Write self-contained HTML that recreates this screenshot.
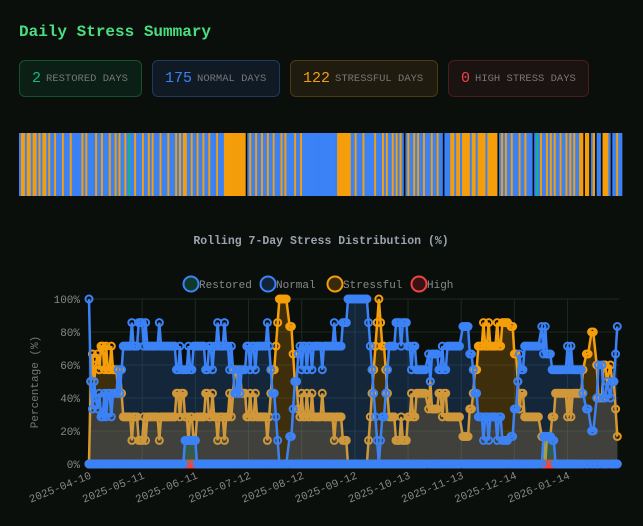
<!DOCTYPE html>
<html><head><meta charset="utf-8">
<style>
html,body{margin:0;padding:0;background:#0b0f0c;width:643px;height:526px;overflow:hidden;font-family:"Liberation Mono",monospace}
#title{position:absolute;left:19px;top:23px;font-size:16px;font-weight:bold;color:#4ade80}
.badge{position:absolute;top:60px;height:37px;border-radius:6px;box-sizing:border-box;border:1px solid;display:flex;align-items:center;padding-left:12px;white-space:nowrap}
.badge b{font-weight:normal;font-size:15px;margin-right:5px}
.badge span{font-size:10.5px;color:#777}
#strip{position:absolute;left:19px;top:133px}
#chart{position:absolute;left:0;top:0}
</style></head><body>
<div id="title">Daily Stress Summary</div>
<div class="badge" style="left:19px;width:123px;background:#0c1f16;border-color:#14532d"><b style="color:#10b981">2</b><span>RESTORED DAYS</span></div>
<div class="badge" style="left:152px;width:128px;background:#101a24;border-color:#1e3a5f"><b style="color:#3b82f6">175</b><span>NORMAL DAYS</span></div>
<div class="badge" style="left:290px;width:148px;background:#1f1b0e;border-color:#4a3b10"><b style="color:#f59e0b">122</b><span>STRESSFUL DAYS</span></div>
<div class="badge" style="left:448px;width:141px;background:#1b1312;border-color:#4a1c1c"><b style="color:#ef4444">0</b><span>HIGH STRESS DAYS</span></div>
<svg id="strip" width="605" height="63"></svg>
<svg id="chart" width="643" height="526" style="top:0;pointer-events:none"></svg>
<script>
const NS='http://www.w3.org/2000/svg';
// daily categories: N normal, S stressful, R restored, G gap (no data)
const dailyCodes=[
"NSSNSSNSSN","SNSSNSNNSN","NNSNNNSNNN","NNSNSNNNNS","NNSNNNSNNS",
"NSNNSNRNNS","NNNSNNSNSN","NNSNNNSNNN","SNSNSSNNSN","NSNNSNNSNN",
"NSNNNSSSSS","SSSSSSGNSN","NSNNSNNSNN","SNNNSNSNNN","NSNNSNNNNN",
"NNNNNNNNNN","NNNSSSSSSS","NNSNNNSNNN","NNSNNNSNSN","NSNSNSNGNS",
"NNSNSNNSNN","NSNNSNNGNN","NSSNSSNSSS","SNSSNSSSSN","SSSSSGNSNS",
"NNSNNNSNNS","NNNGNRNSNN","SNSNSNNSNN","SNSNSNNSSG","SSGNSGNNGS",
"SSNGNNSNNG"].join('').split('');
const tickLabels=["2025-04-10","2025-05-11","2025-06-11","2025-07-12","2025-08-12","2025-09-12","2025-10-13","2025-11-13","2025-12-14","2026-01-14"];
const tickDays=[0,31,62,93,124,155,186,217,248,279];
const yTicks=[0,20,40,60,80,100];
const colors={N:'#3b82f6',S:'#f59e0b',R:'#10b981',H:'#ef4444'};

const strip=document.getElementById('strip');
const dw=605/dailyCodes.length;
dailyCodes.forEach((c,i)=>{
  if(c==='G')return;
  const r=document.createElementNS(NS,'rect');
  
  
  r.setAttribute('x',i*dw);r.setAttribute('y',0);r.setAttribute('width',dw+0.3);r.setAttribute('height',63);
  r.setAttribute('fill',colors[c]);strip.appendChild(r);
});

const days=[],restored=[],normal=[],stressful=[],high=[];
dailyCodes.forEach((c,i)=>{
  if(c==='G')return;
  let n=0,cnt={N:0,S:0,R:0,H:0};
  for(let k=Math.max(0,i-6);k<=i;k++){const v=dailyCodes[k];if(v!=='G'){n++;cnt[v]++;}}
  days.push(i);restored.push(cnt.R/n*100);normal.push(cnt.N/n*100);stressful.push(cnt.S/n*100);high.push(cnt.H/n*100);
});
const X0=89,X1=619,Y0=464,Y1=299;
const xs=d=>X0+d*(X1-X0)/(dailyCodes.length-1);
const ys=v=>Y0-v*(Y0-Y1)/100;
const svg=document.getElementById('chart');
function el(t,a,name,txt){const e=document.createElementNS(NS,t);for(const k in a)e.setAttribute(k,a[k]);
  
  
  if(txt!==undefined)e.textContent=txt;svg.appendChild(e);return e;}
const F='Liberation Mono,monospace';
el('text',{x:321,y:244,'text-anchor':'middle','font-size':11.5,'font-weight':'bold',fill:'#9ca3af','font-family':F},'chart-title','Rolling 7-Day Stress Distribution (%)');
const leg=[['Restored','#0f3a2a','#3b82f6',199],['Normal','#13233a','#3b82f6',276],['Stressful','#3a2a08','#f59e0b',343],['High','#3a1212','#ef4444',427]];
leg.forEach(l=>{
  el('circle',{cx:l[3]-8,cy:284,r:7.5,fill:l[1],stroke:l[2],'stroke-width':2},'legend-marker');
  el('text',{x:l[3],y:288,'font-size':11,fill:'#888','font-family':F},'legend-entry',l[0]);
});
yTicks.forEach(v=>{
  el('line',{x1:X0,x2:X1,y1:ys(v),y2:ys(v),stroke:'#1c2a20','stroke-width':1},'y-gridline');
  el('text',{x:80,y:ys(v)+4,'text-anchor':'end','font-size':11,fill:'#888','font-family':F},'y-tick-label',v+'%');
});
tickDays.forEach((d,i)=>{
  el('line',{x1:xs(d),x2:xs(d),y1:Y1,y2:Y0+4,stroke:'#1c2a20','stroke-width':1},'x-gridline');
  el('text',{x:xs(d)+3,y:Y0+14,'text-anchor':'end','font-size':11,fill:'#888','font-family':F,transform:`rotate(-22 ${xs(d)+3} ${Y0+14})`},'x-tick-label',tickLabels[i]);
});
el('text',{x:38,y:382,'text-anchor':'middle','font-size':11,fill:'#777','font-family':F,transform:'rotate(-90 38 382)'},'y-axis-title','Percentage (%)');
function series(vals,stroke,fill,name){
  let p=days.map((d,i)=>xs(d)+','+ys(vals[i])).join(' ');
  el('polygon',{points:xs(days[0])+','+Y0+' '+p+' '+xs(days[days.length-1])+','+Y0,fill:fill},name+'-area');
  el('polyline',{points:p,fill:'none',stroke:stroke,'stroke-width':2.5},name+'-line');
  days.forEach((d,i)=>el('circle',{cx:xs(d),cy:ys(vals[i]),r:3.5,fill:'none',stroke:stroke,'stroke-width':2},name+'-point'));
}
series(stressful,'#f59e0b','rgba(245,158,11,0.22)','stressful');
series(normal,'#3b82f6','rgba(59,130,246,0.2)','normal');
el('rect',{x:X0,y:ys(20),width:X1-X0,height:Y0-ys(20),fill:'rgba(160,160,160,0.04)'},'base-shade');
series(high,'#ef4444','rgba(239,68,68,0.2)','high');
series(restored,'#3b82f6','rgba(16,185,129,0.2)','restored');
</script>
</body></html>
